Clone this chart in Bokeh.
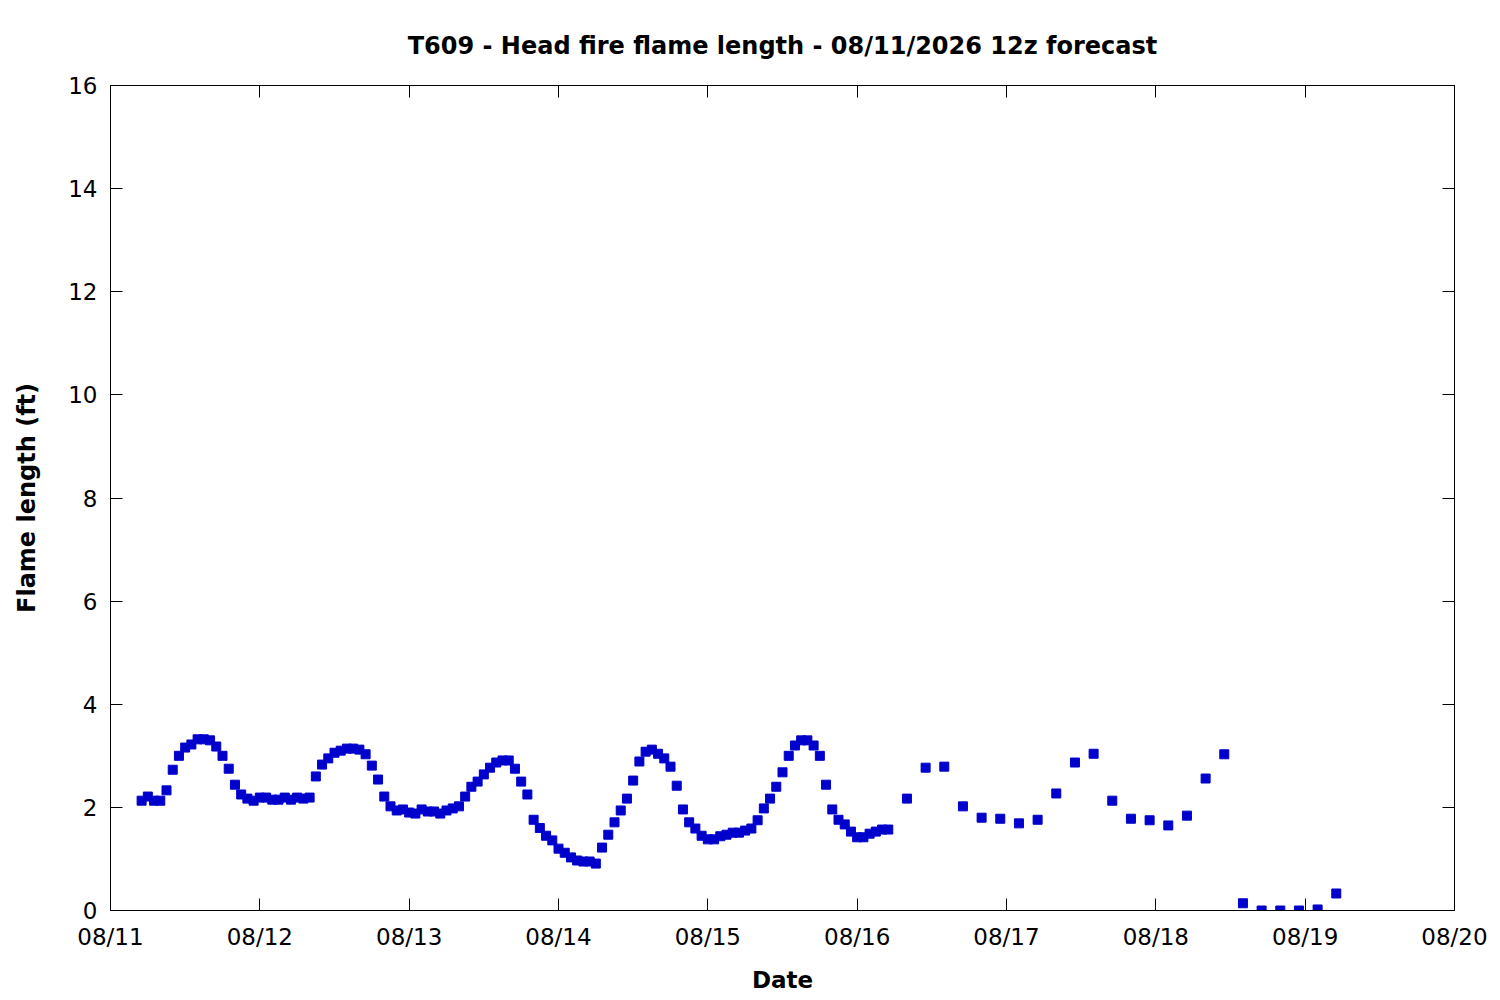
from bokeh.plotting import figure
from bokeh.models import Range1d, FixedTicker, LinearAxis, CustomJSTickFormatter
from bokeh.embed import file_html
from bokeh.resources import INLINE

# forecast hours since 08/11 00z
hours_hourly = [5, 6, 7, 8, 9, 10, 11, 12, 13, 14, 15, 16, 17, 18, 19, 20, 21, 22, 23, 24,
                25, 26, 27, 28, 29, 30, 31, 32, 33, 34, 35, 36, 37, 38, 39, 40, 41, 42, 43, 44,
                45, 46, 47, 48, 49, 50, 51, 52, 53, 54, 55, 56, 57, 58, 59, 60, 61, 62, 63, 64,
                65, 66, 67, 68, 69, 70, 71, 72, 73, 74, 75, 76, 77, 78, 79, 80, 81, 82, 83, 84,
                85, 86, 87, 88, 89, 90, 91, 92, 93, 94, 95, 96, 97, 98, 99, 100, 101, 102, 103, 104,
                105, 106, 107, 108, 109, 110, 111, 112, 113, 114, 115, 116, 117, 118, 119, 120, 121, 122, 123, 124,
                125]
flame_hourly = [2.13, 2.21, 2.13, 2.13, 2.33, 2.73, 3.0, 3.16, 3.22, 3.32, 3.32, 3.3, 3.18, 3.0,
                2.75, 2.44, 2.25, 2.17, 2.13, 2.19, 2.19, 2.15, 2.15, 2.19, 2.15, 2.19, 2.17, 2.19,
                2.6, 2.83, 2.95, 3.06, 3.1, 3.14, 3.14, 3.12, 3.03, 2.81, 2.54, 2.21, 2.02, 1.94,
                1.96, 1.9, 1.88, 1.96, 1.92, 1.92, 1.88, 1.94, 1.98, 2.02,
                2.21, 2.4, 2.5, 2.64, 2.77, 2.87, 2.91, 2.91, 2.75, 2.5, 2.25, 1.76, 1.6, 1.45,
                1.36, 1.2, 1.12, 1.03, 0.97, 0.95, 0.95, 0.91,
                1.22, 1.47, 1.71, 1.94, 2.17, 2.52, 2.89, 3.08, 3.12, 3.04, 2.95, 2.79, 2.42, 1.96,
                1.71, 1.59, 1.45, 1.38, 1.38, 1.44, 1.47, 1.51, 1.51, 1.55, 1.59, 1.75, 1.98, 2.17,
                2.4, 2.68, 3.0, 3.2, 3.3, 3.3, 3.2, 3.0, 2.44, 1.96, 1.76, 1.67, 1.53, 1.42, 1.42,
                1.49, 1.53, 1.57, 1.57]
hours_3h = [128, 131, 134, 137, 140, 143, 146, 149, 152, 155, 158, 161, 164, 167, 170, 173,
            176, 179, 182, 185, 188, 191, 194, 197]
flame_3h = [2.17, 2.77, 2.79, 2.02, 1.8, 1.78, 1.69, 1.76, 2.27, 2.87, 3.04, 2.13, 1.78, 1.75,
            1.65, 1.84, 2.56, 3.03, 0.14, 0.0, 0.0, 0.0, 0.02, 0.33]

date_tick_hours = [0, 24, 48, 72, 96, 120, 144, 168, 192, 216]
date_tick_labels = ["08/11", "08/12", "08/13", "08/14", "08/15", "08/16", "08/17", "08/18", "08/19", "08/20"]
y_ticks = [0, 2, 4, 6, 8, 10, 12, 14, 16]

FONT = "DejaVu Sans"
FS = "23px"

p = figure(frame_width=1344, frame_height=825,
           min_border_left=110, min_border_right=40, min_border_top=85, min_border_bottom=82,
           x_range=Range1d(0, 216), y_range=Range1d(0, 16),
           output_backend="svg", toolbar_location=None,
           title="T609 - Head fire flame length - 08/11/2026 12z forecast")

p.title.align = "center"
p.title.text_font = FONT
p.title.text_font_size = "24px"
p.title.text_font_style = "bold"
p.title.text_color = "black"
p.title.standoff = 52

p.xgrid.visible = False
p.ygrid.visible = False
p.outline_line_color = "black"
p.outline_line_width = 1
p.outline_line_alpha = 1.0
p.background_fill_color = "white"
p.border_fill_color = "white"

x_all = hours_hourly + hours_3h
y_all = flame_hourly + flame_3h
p.scatter(x_all, y_all, marker="square", size=9, fill_color="#0000CC", line_color="#0000CC")

def style_axis(ax):
    ax.major_tick_in = 12
    ax.major_tick_out = 0
    ax.minor_tick_line_color = None
    ax.axis_line_color = "black"
    ax.major_tick_line_color = "black"
    ax.major_label_text_font = FONT
    ax.major_label_text_font_size = FS
    ax.major_label_text_color = "black"
    ax.axis_label_text_font = FONT
    ax.axis_label_text_font_size = FS
    ax.axis_label_text_font_style = "bold"
    ax.axis_label_text_color = "black"

xt = FixedTicker(ticks=date_tick_hours)
yt = FixedTicker(ticks=y_ticks)

xa = p.xaxis[0]
xa.ticker = xt
xa.major_label_overrides = {h: l for h, l in zip(date_tick_hours, date_tick_labels)}
xa.axis_label = "Date"
style_axis(xa)
xa.major_label_standoff = 13
xa.axis_label_standoff = 14

ya = p.yaxis[0]
ya.ticker = yt
ya.axis_label = "Flame length (ft)"
style_axis(ya)
ya.axis_label_text_font_size = "24px"
ya.major_label_standoff = 13
ya.axis_label_standoff = 24

blank = CustomJSTickFormatter(code="return ''")
top = LinearAxis(ticker=FixedTicker(ticks=date_tick_hours), formatter=blank)
style_axis(top)
top.major_label_text_font_size = "0px"
top.major_label_standoff = 0
right = LinearAxis(ticker=FixedTicker(ticks=y_ticks), formatter=CustomJSTickFormatter(code="return ''"))
style_axis(right)
right.major_label_text_font_size = "0px"
right.major_label_standoff = 0
p.add_layout(top, "above")
p.add_layout(right, "right")

open("out.html", "w").write(file_html(p, INLINE))
